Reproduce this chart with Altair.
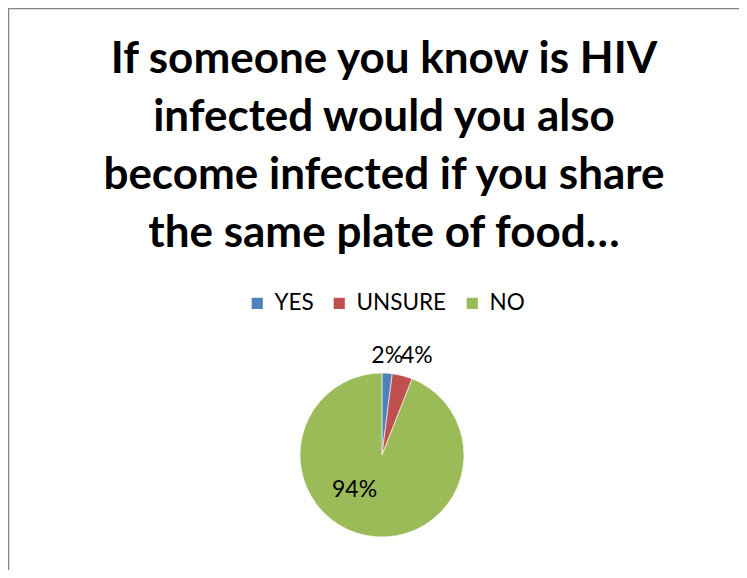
import altair as alt
import pandas as pd

TITLE_LINES = [
    "If someone you know is HIV",
    "infected would you also",
    "become infected if you share",
    "the same plate of food…",
]
CATEGORIES = ["YES", "UNSURE", "NO"]
PERCENTS = [2, 4, 94]
COLORS = ["#4F81BD", "#C0504D", "#9BBB59"]
LABELS = ["2%", "4%", "94%"]

df = pd.DataFrame({
    "category": CATEGORIES,
    "value": PERCENTS,
    "label": LABELS,
    "idx": list(range(len(CATEGORIES))),
})

W, H = 731, 562
CX, CY, R = 374, 447, 82

base = alt.Chart(df)

arc = base.mark_arc(outerRadius=R, stroke="white", strokeWidth=0.6).encode(
    theta=alt.Theta("value:Q", stack=True, scale=alt.Scale(domain=[0, 100])),
    color=alt.Color(
        "category:N",
        scale=alt.Scale(domain=CATEGORIES, range=COLORS),
        sort=CATEGORIES,
        legend=alt.Legend(
            title=None,
            orient="none",
            direction="horizontal",
            legendX=238,
            legendY=284,
            symbolType="square",
            symbolSize=125,
            symbolStrokeWidth=0,
            labelFont="Lato",
            labelFontSize=22.5,
            labelColor="#000000",
            labelOffset=6,
            columnPadding=14,
        ),
    ),
    order=alt.Order("idx:Q"),
    x=alt.value(CX),
    y=alt.value(CY),
)


def label_layer(cat, radius, dx, dy):
    return (
        base.transform_window(cum="sum(value)", sort=[{"field": "idx"}])
        .transform_calculate(mid="datum.cum - datum.value / 2")
        .transform_filter(alt.datum.category == cat)
        .mark_text(radius=radius, dx=dx, dy=dy, font="Lato", fontSize=23,
                   color="#000000", align="center", baseline="middle")
        .encode(
            theta=alt.Theta("mid:Q", scale=alt.Scale(domain=[0, 100])),
            text="label:N",
            x=alt.value(CX),
            y=alt.value(CY),
        )
    )


lab_yes = label_layer("YES", 99, -1, 0)
lab_uns = label_layer("UNSURE", 100, 10, -2)
lab_no = label_layer("NO", 45, -19, -9)

title = alt.Chart(pd.DataFrame({"t": [0]})).mark_text(
    text=TITLE_LINES, font="Lato", fontWeight="bold", fontSize=44,
    lineHeight=58, align="center", baseline="alphabetic", color="#000000",
).encode(x=alt.value(376), y=alt.value(65))

top_rule = alt.Chart(pd.DataFrame({"t": [0]})).mark_rule(
    color="#868686", strokeWidth=1.5).encode(
    x=alt.value(0), x2=alt.value(W), y=alt.value(0.5))
left_rule = alt.Chart(pd.DataFrame({"t": [0]})).mark_rule(
    color="#868686", strokeWidth=1.5).encode(
    x=alt.value(0.5), y=alt.value(0), y2=alt.value(H))

chart = alt.layer(
    top_rule, left_rule, title, arc, lab_yes, lab_uns, lab_no
).resolve_scale(theta="independent").properties(
    width=W, height=H, autosize=alt.AutoSizeParams(type="none"), padding=0,
    background="transparent",
).configure_view(strokeWidth=0, stroke="transparent")

chart.save("out.html", embed_options={"renderer": "svg", "actions": False})
